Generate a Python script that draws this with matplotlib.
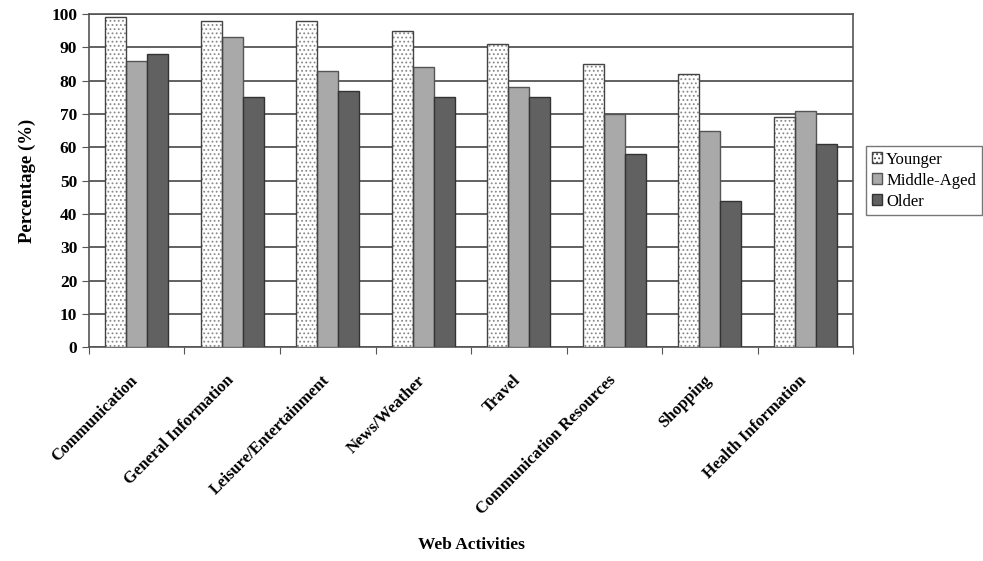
import numpy as np
import matplotlib.pyplot as plt
from matplotlib.patches import Patch

# Daten
activities = ['Communication', 'General Information', 'Leisure/Entertainment',
              'News/Weather', 'Travel', 'Communication Resources',
              'Shopping', 'Health Information']
younger = [99, 98, 98, 95, 91, 85, 82, 69]
middle_aged = [86, 93, 83, 84, 78, 70, 65, 71]
older = [88, 75, 77, 75, 75, 58, 44, 61]

plt.rcParams['font.family'] = ['Liberation Serif', 'DejaVu Serif']
plt.rcParams['hatch.linewidth'] = 0.8

fig = plt.figure(figsize=(9.83, 5.61), dpi=100)
ax = fig.add_axes([0.0905, 0.381, 0.7775, 0.594])

x = np.arange(len(activities))
w = 0.22
# gepunktete Füllung, dann Umriss darüber
ax.bar(x - w, younger, w, color='white', edgecolor='#8a8a8a', hatch='....',
       linewidth=0, zorder=3)
ax.bar(x - w, younger, w, fill=False, edgecolor='#444444', linewidth=1.0, zorder=4)
ax.bar(x, middle_aged, w, color='#a9a9a9', edgecolor='#555555',
       linewidth=1.0, zorder=3)
ax.bar(x + w, older, w, color='#616161', edgecolor='#333333',
       linewidth=1.0, zorder=3)

ax.set_xlim(-0.5, len(activities) - 0.5)
ax.set_ylim(0, 100)
ax.set_yticks(np.arange(0, 101, 10))
ax.yaxis.grid(True, color='#555555', linewidth=1.3, zorder=0)
ax.set_axisbelow(True)

# Striche an den Gruppengrenzen, Beschriftung etwas links der Gruppenmitte
ax.set_xticks(np.arange(len(activities) + 1) - 0.5)
ax.set_xticklabels([])
ax.set_xticks(x - 0.07, minor=True)
ax.set_xticklabels(activities, minor=True, rotation=45, ha='right',
                   rotation_mode='anchor', fontsize=12, fontweight='bold')
ax.tick_params(axis='x', which='minor', length=0, pad=18)
ax.tick_params(axis='x', which='major', direction='out', length=5, color='#555555')
ax.tick_params(axis='y', direction='out', length=5, color='#555555', labelsize=12.5)
for lbl in ax.get_yticklabels():
    lbl.set_fontweight('bold')

for s in ax.spines.values():
    s.set_color('#555555')
    s.set_linewidth(1.2)

ax.set_ylabel('Percentage (%)', fontsize=13.5, fontweight='bold', labelpad=11)
fig.text(0.48, 0.022, 'Web Activities', ha='center', fontsize=12.5, fontweight='bold')

handles = [Patch(facecolor='white', edgecolor='#444444', hatch='....', label='Younger'),
           Patch(facecolor='#a9a9a9', edgecolor='#555555', label='Middle-Aged'),
           Patch(facecolor='#616161', edgecolor='#333333', label='Older')]
leg = ax.legend(handles=handles, loc='center left', bbox_to_anchor=(1.017, 0.50),
                fontsize=12, frameon=True, fancybox=False, edgecolor='#555555',
                handlelength=0.6, handleheight=0.6, handletextpad=0.25,
                borderpad=0.35, labelspacing=0.3, borderaxespad=0)
leg.get_frame().set_linewidth(1.0)

fig.savefig('out.png', dpi=100)
